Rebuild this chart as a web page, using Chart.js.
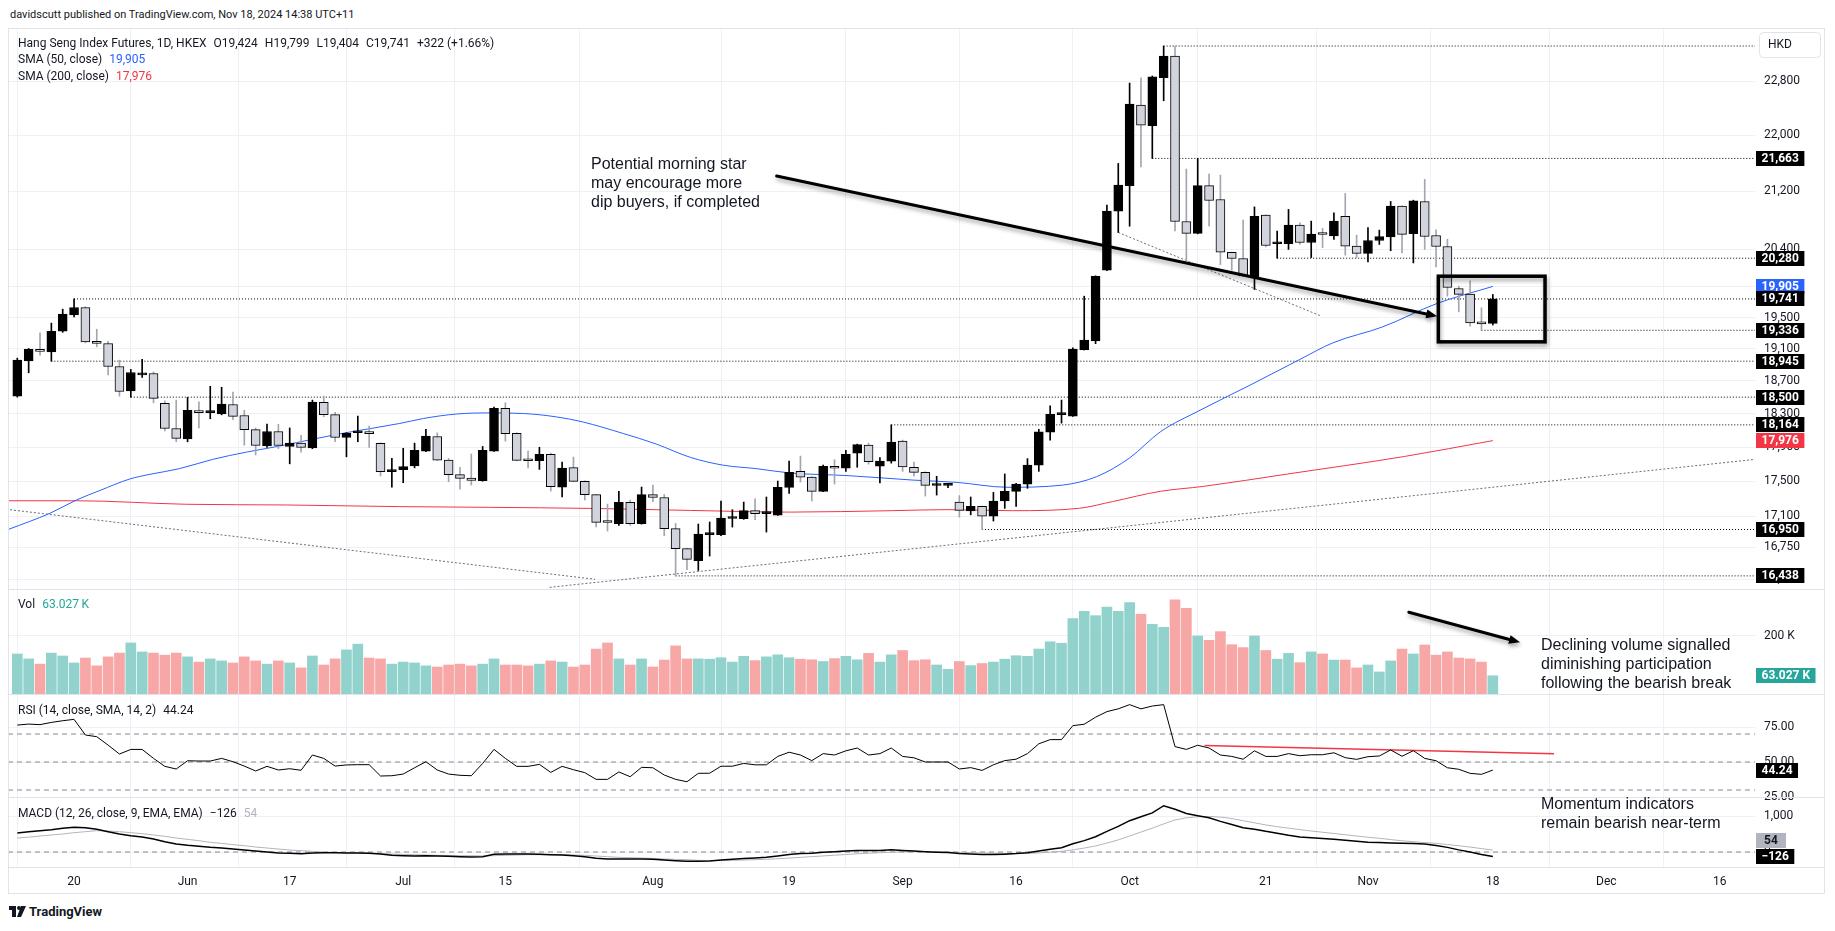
<!DOCTYPE html>
<html>
<head>
<meta charset="utf-8">
<title>Hang Seng Index Futures</title>
<script src="https://cdn.jsdelivr.net/npm/chart.js@4.4.1/dist/chart.umd.min.js"></script>
<style>
  body { margin: 0; background: #fff; font-family: Roboto, "Noto Sans", sans-serif; color: #131722; }
  .abs { position: absolute; white-space: nowrap; }
  #hdr { left: 10px; top: 8px; font-size: 11px; }
  #frame { position: absolute; left: 8px; top: 28px; width: 1817px; height: 866px; }
  .leg { font-size: 12px; line-height: 16px; }
  .leg span { margin-left: 7px; }
  .note { position: absolute; font-family: "Liberation Sans", Arial, sans-serif; font-size: 16px; line-height: 19px; color: #131722; white-space: pre; }
  #logo { left: 9px; top: 904px; font-size: 13px; font-weight: 700; display: flex; align-items: center; gap: 3px; }
</style>
</head>
<body>
<div id="hdr" class="abs">davidscutt published on TradingView.com, Nov 18, 2024 14:38 UTC+11</div>
<div id="frame"><canvas id="c" width="1817" height="866"></canvas></div>
<div id="leg1" class="abs leg" style="left:18px;top:35px"></div>
<div id="leg2" class="abs leg" style="left:18px;top:51px"></div>
<div id="leg3" class="abs leg" style="left:18px;top:68px"></div>
<div id="leg4" class="abs leg" style="left:18px;top:596px"></div>
<div id="leg5" class="abs leg" style="left:18px;top:702px"></div>
<div id="leg6" class="abs leg" style="left:18px;top:805px"></div>
<div class="note" style="left:591px;top:154px">Potential morning star
may encourage more
dip buyers, if completed</div>
<div class="note" style="left:1541px;top:635px">Declining volume signalled
diminishing participation
following the bearish break</div>
<div class="note" style="left:1541px;top:794px">Momentum indicators
remain bearish near-term</div>
<div id="logo" class="abs"><svg width="17" height="11" viewBox="0 0 17 11"><path d="M0 0h7v11H3V4H0z" fill="#131722"/><circle cx="10" cy="2" r="2" fill="#131722"/><path d="M12 0h5l-5 11H8z" fill="#131722"/></svg><span>TradingView</span></div>

<script>
// daily candles, index 0 = 10 May 2024 ... index 130 = 18 Nov 2024
const opens = [
  18512,18949,19093,19063,19324,19534,19630,19194,19168,18879,
  18576,18775,18792,18424,18120,17997,18336,18312,18295,18410,
  18277,18107,17913,18084,17906,17946,17889,18436,18288,18013,
  18070,18066,17943,17611,17634,17678,17852,18025,17746,17576,
  17536,17505,17852,18364,18064,17742,17738,17814,17432,17657,
  17498,17346,17034,17015,17257,17015,17346,17312,16959,16736,
  16603,16893,16891,17074,17071,17162,17128,17112,17429,17614,
  17548,17383,17674,17650,17826,17922,17674,17734,17970,17662,
  17603,17450,17452,17260,17158,17211,17101,17272,17383,17467,
  17686,18076,18288,18270,19090,19201,20121,20921,21277,22441,
  22136,22850,23181,20778,20615,21277,21083,20358,20276,20023,
  20865,20475,20477,20728,20492,20605,20582,20851,20442,20344,
  20519,20568,20990,20610,21055,20587,20438,19878,19804,19445,
  19424
];
const highs = [
  18983,19105,19303,19428,19608,19741,19640,19350,19194,18958,
  18842,18967,18812,18456,18464,18497,18443,18633,18621,18561,
  18340,18127,18172,18172,18127,18038,18464,18512,18316,18070,
  18270,18148,17950,17766,17885,17946,18111,18068,17766,17662,
  17817,17906,18380,18431,18070,17853,17897,17829,17722,17781,
  17505,17350,17237,17383,17283,17432,17455,17346,17018,16740,
  17011,17034,17272,17173,17260,17298,17318,17502,17734,17793,
  17552,17686,17751,17861,17934,17946,17775,18164,17982,17722,
  17610,17557,17470,17334,17318,17215,17371,17584,17475,17763,
  18111,18393,18464,19113,19777,20045,21004,21591,22770,22848,
  22876,23334,23334,21511,21663,21440,21426,20362,20796,20980,
  20870,20646,20945,20760,20783,20683,20898,21167,20591,20696,
  20660,21055,20995,21073,21365,20664,20537,19908,19978,19625,
  19799
];
const lows = [
  18500,18800,19021,18945,19310,19509,19176,19126,18775,18512,
  18500,18742,18431,18091,17962,17962,18127,18237,18285,18225,
  17921,17806,17894,17882,17702,17838,17880,18261,17962,17784,
  17962,17894,17561,17432,17482,17655,17845,17740,17494,17409,
  17455,17500,17848,17970,17738,17653,17637,17386,17320,17495,
  17283,16980,16932,16996,16996,17010,17264,16880,16438,16505,
  16497,16655,16880,16977,17064,17060,16921,17108,17360,17490,
  17272,17378,17467,17614,17662,17698,17479,17710,17614,17557,
  17329,17340,17424,17089,17115,16950,17045,17188,17211,17418,
  17614,17982,18185,18265,19085,19166,20115,20628,20714,21540,
  21663,22505,20650,20253,20610,20718,20195,20121,20040,19865,
  20432,20280,20398,20464,20289,20423,20534,20321,20289,20230,
  20465,20380,20352,20217,20398,20164,19777,19573,19389,19336,
  19404
];
const closes = [
  18958,19093,19068,19324,19543,19630,19189,19168,18879,18569,
  18804,18792,18485,18120,18002,18340,18312,18318,18414,18266,
  18107,17918,18084,17918,17946,17894,18439,18288,18013,18064,
  18072,18060,17611,17618,17670,17861,18029,17746,17576,17532,
  17510,17861,18364,18060,17742,17738,17814,17437,17653,17498,
  17346,17030,17028,17257,17015,17346,17312,16959,16736,16619,
  16899,16899,17079,17079,17162,17128,17132,17429,17603,17548,
  17383,17674,17650,17814,17928,17726,17734,17958,17666,17603,
  17452,17456,17456,17165,17211,17101,17272,17383,17467,17686,
  18080,18291,18295,19097,19210,20040,20921,21285,22456,22146,
  22865,23181,20778,20615,21277,21069,20362,20276,20044,20851,
  20451,20482,20728,20492,20605,20600,20783,20442,20344,20519,
  20573,20990,20601,21063,20573,20438,19891,19800,19431,19419,
  19741
];
// volume in thousands of contracts
const volumes = [
  138,121,103,141,131,107,124,97,128,141,
  176,145,141,134,141,128,110,121,114,107,
  128,114,103,114,107,90,131,100,121,152,
  172,124,121,103,110,107,97,93,100,103,
  97,103,121,100,100,97,103,114,110,93,
  100,155,176,121,100,121,93,117,166,121,
  121,120,125,110,130,115,128,135,125,120,
  118,112,122,130,118,140,110,135,150,115,
  118,100,85,112,98,105,110,120,132,130,
  155,180,175,260,285,270,300,285,315,275,
  240,230,325,295,200,185,215,170,160,200,
  150,120,140,108,145,138,117,117,90,100,
  76,114,155,138,169,134,145,124,121,110,
  63.027
];
const rsi = [
  76.4,77.1,76.7,78.3,79.5,80.5,69.3,68.1,62.1,55.7,
  59.0,59.0,52.6,46.9,45.0,50.9,50.7,50.7,52.6,50.2,
  47.1,43.6,46.9,44.3,45.2,44.1,55.0,52.6,47.1,47.9,
  48.1,48.1,40.0,40.2,41.4,45.9,50.2,44.3,41.4,40.5,
  40.2,49.0,59.0,52.6,46.9,46.9,48.3,42.6,46.9,44.5,
  42.4,37.6,37.6,42.9,39.5,46.2,45.9,40.7,37.6,35.9,
  41.9,42,47,47,49,48,48,54,57,55,
  51,56,55,58,60,55,56,60,54,53,
  50,50,50,45,46,44,48,51,52,56,
  63,66,66,76,77,82,86,88,91,88,
  90,91,61,59,62,60,55,54,52,58,
  54,54,56,54.5,55.2,55.2,56.6,53.1,51.9,53.8,
  54.3,58.6,54.1,58.1,52.6,50.9,45.9,44.8,41.9,41.2,
  44.24
];
const macd = [
  534,571,599,627,665,693,684,637,571,506,
  459,421,365,290,225,187,159,131,112,84,
  56,28,0,-28,-37,-47,-28,-19,-19,-28,
  -28,-37,-56,-94,-103,-112,-103,-112,-122,-131,
  -140,-131,-66,-56,-56,-56,-66,-75,-84,-103,
  -131,-178,-197,-197,-197,-197,-206,-225,-243,-262,
  -262,-250,-225,-205,-180,-165,-150,-110,-70,-45,
  -35,-10,5,25,45,45,45,60,45,30,
  10,-5,-15,-40,-55,-70,-70,-60,-45,-20,
  30,80,120,230,320,430,580,720,880,990,
  1100,1300,1200,1080,1020,960,860,770,680,640,
  580,530,470,420,400,380,355,330,300,275,
  265,255,245,240,225,180,130,60,0,-70,
  -126
];
const signal = [
  393,417,449,478,506,543,571,599,590,571,
  543,515,478,440,393,356,318,271,243,206,
  178,140,112,84,56,37,19,0,-9,-19,
  -19,-37,-47,-56,-66,-75,-84,-94,-94,-103,
  -103,-112,-103,-94,-84,-75,-75,-75,-75,-84,
  -94,-112,-131,-150,-159,-168,-178,-197,-206,-215,
  -234,-240,-238,-233,-225,-215,-205,-190,-170,-150,
  -130,-110,-90,-70,-50,-35,-20,-5,5,10,
  10,5,0,-8,-18,-28,-36,-41,-42,-38,
  -25,-5,20,60,110,170,250,340,450,560,
  670,790,900,960,990,1000,980,940,880,820,
  760,710,670,630,590,555,520,485,450,415,
  385,350,315,290,265,244,210,175,140,95,
  54
];
// moving averages (bar index, value)
const sma50Idx = [-0.8,2.9,5.2,7.3,9.9,11.7,14.3,17.2,20.2,23.1,26.1,29,33.7,35.8,38.7,41.6,44.6,47.5,49.8,53.4,56.3,59.3,62.2,65.1,68.1,73.1,78.9,82.8,87.2,92.1,95.1,98,100.7,104.2,108.6,113,115.9,120.3,125.1,130];
const sma50Val = [16950,17134,17283,17394,17525,17580,17646,17754,17840,17911,17994,18071,18181,18241,18295,18308,18301,18260,18200,18060,17935,17778,17686,17646,17595,17565,17513,17486,17430,17455,17553,17771,18080,18340,18647,18967,19176,19380,19683,19905];
const sma200Idx = [-0.8,5.2,14.9,23.7,33.7,41.6,50.4,59.3,68.1,77,81.9,87.7,93.6,96.5,100.7,104.5,111.9,122.2,130];
const sma200Val = [17275,17275,17235,17227,17208,17200,17188,17165,17146,17162,17174,17162,17190,17266,17383,17440,17583,17788,17976];

// horizontal levels and the bar they start from
const levelPrices = [23334,21663,20280,19741,19336,18945,18500,18164,16950,16438];
const levelFrom   = [101,100,111,5,129,3,10,77,85,58];
const levelTagged = [false,true,true,true,true,true,true,true,true,true];

const priceTicks = [22800,22000,21200,20400,19900,19500,19100,18700,18300,17900,17500,17100,16750,16400];
const xTickIdx    = [5,15,24,34,43,56,68,78,88,98,110,119,130,140,150];
const xTickLabels = ['20','Jun','17','Jul','15','Aug','19','Sep','16','Oct','21','Nov','18','Dec','16'];

const xMin = -0.82, xMax = 153.1;
const GRID = '#eef0f5', TXT = '#131722', SEP = '#e0e3eb';
const FONT = {family: 'Roboto, "Noto Sans", sans-serif', size: 12};

// drawings
const trendLines = [
  [[-0.64,17173],[50.9,16401]],
  [[46.9,16314],[153.1,17754]],
  [[97,20628],[114.9,19517]]
];
const bigArrow = [[66.9,21412],[125.1,19517]];
const volArrow = [[122.6,282],[132.4,178]];
const focusBox = [[125.2,20040],[134.6,19189]];
const rsiTrend = [[104.6,61.8],[135.4,55.9]];

const fmt = v => v.toLocaleString('en-US');
const isUp = closes.map((c, i) => c >= opens[i]);
const last = a => a[a.length - 1];

// legends
const n = closes.length;
const chg = closes[n - 1] - closes[n - 2];
document.getElementById('leg1').innerHTML = 'Hang Seng Index Futures, 1D, HKEX<span>O' + fmt(opens[n-1]) + '</span><span>H' + fmt(highs[n-1]) +
  '</span><span>L' + fmt(lows[n-1]) + '</span><span>C' + fmt(closes[n-1]) + '</span><span>+' + chg + ' (+' + (chg / closes[n-2] * 100).toFixed(2) + '%)</span>';
document.getElementById('leg2').innerHTML = 'SMA (50, close)<span style="color:#2962ff">' + fmt(last(sma50Val)) + '</span>';
document.getElementById('leg3').innerHTML = 'SMA (200, close)<span style="color:#f23645">' + fmt(last(sma200Val)) + '</span>';
document.getElementById('leg4').innerHTML = 'Vol<span style="color:#26a69a">' + last(volumes).toFixed(3) + '&thinsp;K</span>';
document.getElementById('leg5').innerHTML = 'RSI (14, close, SMA, 14, 2)<span>' + last(rsi).toFixed(2) + '</span>';
document.getElementById('leg6').innerHTML = 'MACD (12, 26, close, 9, EMA, EMA)<span>\u2212' + Math.abs(last(macd)) + '</span><span style="color:#b2b5be">' + last(signal) + '</span>';

const line = (pts, axis, color, width, dash, order) => ({
  type: 'line', yAxisID: axis, data: pts.map(p => ({x: p[0], y: p[1]})),
  borderColor: color, borderWidth: width, borderDash: dash || [], pointRadius: 0, order: order || 4
});

const datasets = [
  {type: 'bar', yAxisID: 'y', grouped: false, barThickness: 9, minBarLength: 2, borderWidth: 1, borderColor: '#000', borderSkipped: false,
   data: closes.map((c, i) => ({x: i, y: [Math.min(opens[i], c), Math.max(opens[i], c)]})),
   backgroundColor: isUp.map(u => u ? '#000' : '#d1d4dc'), order: 1},
  {type: 'bar', yAxisID: 'y', grouped: false, barThickness: 1, borderWidth: 0,
   data: closes.map((c, i) => ({x: i, y: [lows[i], highs[i]]})),
   backgroundColor: isUp.map(u => u ? '#000' : '#a3a6af'), order: 2},
  {type: 'line', yAxisID: 'y', data: sma50Idx.map((x, i) => ({x, y: sma50Val[i]})), borderColor: '#2962ff', borderWidth: 1, pointRadius: 0, cubicInterpolationMode: 'monotone', order: 3},
  {type: 'line', yAxisID: 'y', data: sma200Idx.map((x, i) => ({x, y: sma200Val[i]})), borderColor: '#f23645', borderWidth: 1, pointRadius: 0, cubicInterpolationMode: 'monotone', order: 3},
  ...levelPrices.map((p, i) => line([[levelFrom[i], p], [xMax, p]], 'y', '#000', 1, [1, 2], 4)),
  ...trendLines.map(t => line(t, 'y', '#6a6d78', 1, [2, 2], 4)),
  {type: 'bar', yAxisID: 'vol', grouped: false, barThickness: 10, borderWidth: 0,
   data: volumes.map((v, i) => ({x: i, y: v})),
   backgroundColor: isUp.map(u => u ? '#92d2cc' : '#f6a7a6'), order: 5},
  line([[xMin, 70], [xMax, 70]], 'rsi', '#868993', 1, [5, 4], 6),
  line([[xMin, 50], [xMax, 50]], 'rsi', '#868993', 1, [5, 4], 6),
  line([[xMin, 30], [xMax, 30]], 'rsi', '#868993', 1, [5, 4], 6),
  line(rsiTrend, 'rsi', '#f23645', 1.5, [], 5),
  line(rsi.map((v, i) => [i, v]), 'rsi', '#000', 1, [], 4),
  line([[xMin, 0], [xMax, 0]], 'macd', '#868993', 1, [5, 4], 6),
  line(signal.map((v, i) => [i, v]), 'macd', '#b2b5be', 1, [], 5),
  line(macd.map((v, i) => [i, v]), 'macd', '#000', 1.5, [], 4)
];

const fixY = s => { s.width = 70; s.paddingTop = 0; s.paddingBottom = 0; };
const yAxis = (weight, min, max, ticks, cb, type) => ({
  type: type || 'linear', position: 'right', stack: 'panes', stackWeight: weight, min, max,
  grid: {color: GRID, drawTicks: false}, border: {display: false},
  ticks: {color: TXT, font: FONT, padding: 9, autoSkip: false, callback: cb},
  afterBuildTicks: s => { s.ticks = ticks.map(v => ({value: v})); },
  afterFit: fixY
});

function arrow(g, x1, y1, x2, y2) {
  const a = Math.atan2(y2 - y1, x2 - x1), L = 11, W = 4.5;
  const bx = x2 - L * Math.cos(a), by = y2 - L * Math.sin(a);
  g.save();
  g.shadowColor = 'rgba(0,0,0,0.35)'; g.shadowBlur = 4; g.shadowOffsetX = 1; g.shadowOffsetY = 3;
  g.strokeStyle = '#000'; g.fillStyle = '#000'; g.lineWidth = 3; g.lineCap = 'round';
  g.beginPath(); g.moveTo(x1, y1); g.lineTo(bx, by); g.stroke();
  g.beginPath(); g.moveTo(x2, y2);
  g.lineTo(bx + W * Math.sin(a), by - W * Math.cos(a));
  g.lineTo(bx - W * Math.sin(a), by + W * Math.cos(a));
  g.closePath(); g.fill();
  g.restore();
}

const overlay = {
  id: 'overlay',
  afterDatasetsDraw(c) {
    const g = c.ctx, X = c.scales.x, Y = c.scales.y, V = c.scales.vol;
    arrow(g, X.getPixelForValue(bigArrow[0][0]), Y.getPixelForValue(bigArrow[0][1]), X.getPixelForValue(bigArrow[1][0]), Y.getPixelForValue(bigArrow[1][1]));
    arrow(g, X.getPixelForValue(volArrow[0][0]), V.getPixelForValue(volArrow[0][1]), X.getPixelForValue(volArrow[1][0]), V.getPixelForValue(volArrow[1][1]));
    const bx1 = X.getPixelForValue(focusBox[0][0]), by1 = Y.getPixelForValue(focusBox[0][1]);
    const bx2 = X.getPixelForValue(focusBox[1][0]), by2 = Y.getPixelForValue(focusBox[1][1]);
    g.save();
    g.shadowColor = 'rgba(0,0,0,0.35)'; g.shadowBlur = 4; g.shadowOffsetX = 1; g.shadowOffsetY = 3;
    g.strokeStyle = '#000'; g.lineWidth = 3.5;
    g.strokeRect(bx1, by1, bx2 - bx1, by2 - by1);
    g.restore();
  },
  afterDraw(c) {
    const g = c.ctx, W = c.width;
    g.save();
    g.strokeStyle = SEP; g.lineWidth = 1;
    ['vol', 'rsi', 'macd'].forEach(id => {
      const t = Math.round(c.scales[id].top) + 0.5;
      g.beginPath(); g.moveTo(0, t); g.lineTo(W, t); g.stroke();
    });
    const b = Math.round(c.chartArea.bottom) + 0.5;
    g.beginPath(); g.moveTo(0, b); g.lineTo(W, b); g.stroke();
    g.strokeRect(0.5, 0.5, W - 1, c.height - 1);

    // value tags on the right axis
    const tags = [
      {axis: 'y', value: last(sma50Val), text: fmt(last(sma50Val)), bg: '#2962ff', fg: '#fff'},
      {axis: 'y', value: last(sma200Val), text: fmt(last(sma200Val)), bg: '#f23645', fg: '#fff'},
      ...levelPrices.filter((p, i) => levelTagged[i]).map(p => ({axis: 'y', value: p, text: fmt(p), bg: '#000', fg: '#fff'})),
      {axis: 'vol', value: last(volumes), text: last(volumes).toFixed(3) + ' K', bg: '#26a69a', fg: '#fff'},
      {axis: 'rsi', value: last(rsi), text: last(rsi).toFixed(2), bg: '#000', fg: '#fff'},
      {axis: 'macd', value: last(macd), text: '\u2212' + Math.abs(last(macd)), bg: '#000', fg: '#fff'},
      {axis: 'macd', value: last(signal), text: String(last(signal)), bg: '#b2b5be', fg: TXT, above: true}
    ];
    g.font = 'bold 12px Roboto, "Noto Sans", sans-serif';
    g.textBaseline = 'middle'; g.textAlign = 'center';
    tags.forEach(t => {
      const s = c.scales[t.axis];
      let y = s.getPixelForValue(t.value);
      if (t.above) y = Math.min(y, s.getPixelForValue(last(macd)) - 16);
      const w = Math.max(g.measureText(t.text).width + 11, 30);
      const x0 = s.left + 1;
      g.fillStyle = t.bg; g.fillRect(x0, Math.round(y - 7.5), w, 15);
      g.fillStyle = t.fg; g.fillText(t.text, x0 + w / 2, y + 0.5);
    });

    // currency badge
    const hx = c.scales.y.left + 4, hy = 4;
    g.beginPath(); g.roundRect(hx + 0.5, hy + 0.5, 61, 25, 4);
    g.fillStyle = '#fff'; g.fill(); g.strokeStyle = SEP; g.stroke();
    g.font = '12px Roboto, "Noto Sans", sans-serif'; g.fillStyle = TXT; g.textAlign = 'left';
    g.fillText('HKD', hx + 9, hy + 13);
    g.restore();
  }
};

new Chart(document.getElementById('c'), {
  type: 'bar',
  data: {datasets},
  plugins: [overlay],
  options: {
    responsive: false, animation: false, events: [], devicePixelRatio: 1,
    layout: {padding: 0, autoPadding: false},
    plugins: {legend: {display: false}, tooltip: {enabled: false}},
    scales: {
      x: {
        type: 'linear', min: xMin, max: xMax, offset: false,
        grid: {color: GRID, drawTicks: false}, border: {display: false},
        ticks: {color: TXT, font: FONT, padding: 8, maxRotation: 0, autoSkip: false,
                callback: v => xTickLabels[xTickIdx.indexOf(v)] || ''},
        afterBuildTicks: s => { s.ticks = xTickIdx.map(v => ({value: v})); },
        afterFit: s => { s.height = 27; s.paddingLeft = 0; s.paddingRight = 0; }
      },
      y: yAxis(561, 16296, 23614, priceTicks, v => fmt(v), 'logarithmic'),
      vol: yAxis(105, 0, 362, [200], v => v + ' K'),
      rsi: yAxis(103, 25, 98.6, [75, 50, 25], v => v.toFixed(2)),
      macd: yAxis(70, -421, 1545, [1000, 0], v => fmt(v))
    }
  }
});
</script>
</body>
</html>
